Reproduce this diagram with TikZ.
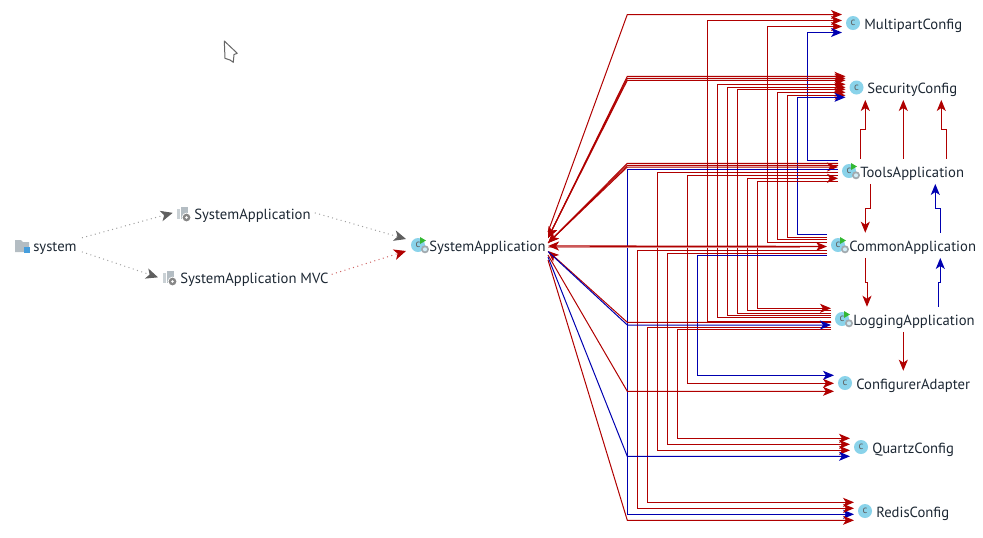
\documentclass[tikz,border=0pt]{standalone}
\usepackage{fontspec}
\setmainfont{PT Sans}
\usetikzlibrary{arrows.meta,calc}
\definecolor{rd}{HTML}{B00000}
\definecolor{bl}{HTML}{0000B0}
\definecolor{ink}{HTML}{1C2733}
\definecolor{sky}{HTML}{8AD3EA}
\definecolor{dgray}{HTML}{5F5F5F}
\definecolor{pkg}{HTML}{B4BDC3}
\tikzset{
  tiphead/.tip={Stealth[length=8.25pt,width=6.75pt,inset=2.2pt]},
  rl/.style={draw=rd,line width=.75pt},
  bln/.style={draw=bl,line width=.75pt},
  rh/.style={rl,-tiphead},
  bh/.style={bln,-tiphead},
  rb/.style={rl,tiphead-},
  lab/.style={anchor=base west,inner sep=0pt,text=ink,font=\fontsize{11pt}{13pt}\selectfont,text height=13.5pt,text depth=5pt},
  cls/.style={circle,fill=sky,inner sep=0pt,minimum size=10.5pt,outer sep=3pt,text=dgray,font=\fontsize{8pt}{8pt}\selectfont},
  dots/.style={line width=.75pt,dash pattern=on .75pt off 2.6pt,draw=gray!75,-{Stealth[length=9pt,width=8pt,inset=2.4pt,fill=dgray,color=dgray]}},
  dotsr/.style={line width=.75pt,dash pattern=on .75pt off 2.6pt,draw=rd!60,-{Stealth[length=9pt,width=8pt,inset=2.4pt,fill=rd,color=rd]}},
}
% route: style, source node, source y, trunk x, target node, target y
\newcommand\rt[6]{\draw[#1] (#2.west |- 0,#3) -- (#4,#3) -- (#4,#6) -- (#5.west |- 0,#6);}
% fan out of the hub: style, hub offset, y, target
\newcommand\fan[4]{\draw[#1] ([shift={(0,#2)}]hub) -- (627.3,#3) -- (#4.west |- 0,#3);}
\newcommand\appmark[1]{%
  \fill[green!65!black!80] ([shift={(2,-8)}]#1.center) -- ([shift={(8,-4.5)}]#1.center) -- ([shift={(2,-1)}]#1.center) -- cycle;
  \fill[pkg!90!black] ([shift={(7,4.3)}]#1.center) circle[radius=3pt];
  \fill[sky!40] ([shift={(7,4.3)}]#1.center) circle[radius=1.5pt];
}
\newcommand\pkgicon[2]{%
  \begin{scope}[shift={(#1,#2)}]
    \fill[pkg!70] (0,2) rectangle (5,12);
    \fill[white] (2.5,0) rectangle (11,13);
    \fill[pkg] (3.5,0) rectangle (10.5,12);
    \fill[white] (9.5,10.5) circle[radius=3.6pt];
    \fill[dgray!75] (9.5,10.5) circle[radius=2.9pt];
    \fill[white] (9.5,10.5) circle[radius=1.1pt];
  \end{scope}}
\begin{document}
\begin{tikzpicture}[x=.75pt,y=-.75pt]
\useasboundingbox (0,0) rectangle (983,537);
% cursor
\filldraw[draw=gray!80!black,fill=white,line width=.75pt,line join=round] (224.3,41) -- (237.3,53.3) -- (234,54.5) -- (233.3,62.3) -- (230,60) -- (225,58.3) -- cycle;
% labels
\node[lab] (sysl) at (33,251) {system};
\node[lab] (sa1) at (194,219) {SystemApplication};
\node[lab] (sa2) at (180,283) {SystemApplication MVC};
\node[lab] (sal) at (429,251) {SystemApplication};
\node[lab] (mpl) at (864,29) {MultipartConfig};
\node[lab] (scl) at (867,93) {SecurityConfig};
\node[lab] (tal) at (860,177) {ToolsApplication};
\node[lab] (cal) at (849,251) {CommonApplication};
\node[lab] (lal) at (853,325) {LoggingApplication};
\node[lab] (cfl) at (856,389) {ConfigurerAdapter};
\node[lab] (qzl) at (872,453) {QuartzConfig};
\node[lab] (rdl) at (876,517) {RedisConfig};
% icons
\node[cls] (main) at (418,245) {c};
\node[cls] (mp) at (853,23) {c};
\node[cls] (sc) at (856.5,87.5) {c};
\node[cls] (ta) at (849,171) {c};
\node[cls] (ca) at (838,245) {c};
\node[cls] (la) at (842,319) {c};
\node[cls] (cf) at (845,383) {c};
\node[cls] (qz) at (861,447) {c};
\node[cls] (rd) at (865,511) {c};
\appmark{main}\appmark{ta}\appmark{ca}\appmark{la}
\pkgicon{177}{207}
\pkgicon{163}{271}
\fill[pkg] (15,240) -- (21,240) -- (23,242) -- (29,242) -- (29,252) -- (15,252) -- cycle;
\fill[white] (23.5,246.5) rectangle (30.5,253.5);
\fill[cyan!70!blue!75] (24,247) rectangle (30,253);
\coordinate (hub) at (548,246);
% left part
\draw[dots] ([shift={(5,-7.5)}]sysl.east) -- ([shift={(-21.3,-0.5)}]sa1.west);
\draw[dots] ([shift={(5,6.5)}]sysl.east) -- ([shift={(-22,0)}]sa2.west);
\draw[dots] ([shift={(4,-0.5)}]sa1.east) -- ([shift={(-1,-6)}]main.west);
\draw[dotsr] ([shift={(3,-3)}]sa2.east) -- ([shift={(-1,6)}]main.west);
% MultipartConfig
\fan{rh}{-14}{14.5}{mp}
\rt{rh}{la}{321}{707.3}{mp}{20.5}
\rt{rh}{ca}{242.3}{767.3}{mp}{26.5}
\rt{bh}{ta}{160.3}{807.3}{mp}{32.5}
% SecurityConfig
\draw[rl,tiphead-tiphead] ([shift={(0,-8)}]hub) -- (627.3,76.3) -- (sc.west |- 0,76.3);
\draw[rl,tiphead-tiphead] ([shift={(0,-8)}]hub) -- (627.3,78.3) -- (sc.west |- 0,78.3);
\draw[rl,tiphead-tiphead] ([shift={(0,-8)}]hub) -- (627.3,80.3) -- (sc.west |- 0,80.3);
\rt{rh}{la}{317.3}{717.3}{sc}{84.3}
\rt{rh}{la}{315.3}{727.3}{sc}{87.3}
\rt{rh}{la}{313.3}{737.3}{sc}{89.3}
\rt{rh}{ca}{239.3}{777.3}{sc}{92.3}
\rt{rh}{ca}{237}{787.3}{sc}{95.3}
\rt{bh}{ca}{234.3}{797.3}{sc}{97.3}
% ToolsApplication
\fan{rb}{-3}{163.3}{ta}
\fan{rl}{-3}{165.3}{ta}
\draw[rl,tiphead-tiphead] ([shift={(0,-3)}]hub) -- (627.3,167) -- (ta.west |- 0,167);
\rt{bh}{ta}{169.3}{627.3}{rd}{514.3}
\rt{rh}{ta}{172.3}{657.3}{qz}{450.3}
\rt{rh}{ta}{175.3}{687.3}{cf}{383.3}
\rt{rh}{la}{310.3}{747.3}{ta}{178.3}
\rt{rh}{ta}{181.3}{757.3}{la}{308.3}
% CommonApplication
\draw[rd!45,line width=1pt] (hub) ++(0,1.6) -- (800,247.6);
\draw[rl,tiphead-tiphead,line width=1pt] (hub) -- (ca.west |- 0,246.5);
\rt{rh}{ca}{250.3}{637.3}{rd}{508.3}
\rt{rh}{ca}{253.3}{667.3}{qz}{444.3}
\rt{bh}{ca}{255.3}{697.3}{cf}{375.3}
% LoggingApplication
\rt{rh}{la}{327.3}{647.3}{rd}{502.3}
\rt{rh}{la}{329.3}{677.3}{qz}{438.3}
\fan{rb}{5}{322.3}{la}
\fan{bh}{5.5}{325}{la}
% lower fan
\fan{rh}{9}{391.3}{cf}
\fan{bh}{11}{456.3}{qz}
\fan{rh}{14}{520.3}{rd}
% between the application classes
\draw[rh] (860.3,0 |- tal.north) -- (860.3,129.3) -- (865.3,129.3) -- (865.3,0 |- scl.south);
\draw[rh] (903.3,0 |- tal.north) -- (903.3,0 |- scl.south);
\draw[rh] (946.3,0 |- tal.north) -- (946.3,129.3) -- (941.3,129.3) -- (941.3,0 |- scl.south);
\draw[rh] (870.3,0 |- tal.south) -- (870.3,208.3) -- (865.3,208.3) -- (865.3,0 |- cal.north);
\draw[bh] (940.3,0 |- cal.north) -- (940.3,208.3) -- (935.3,208.3) -- (935.3,0 |- tal.south);
\draw[rh] (865.3,0 |- cal.south) -- (865.3,282) -- (867,282) -- (867,0 |- lal.north);
\draw[bh] (938.3,0 |- lal.north) -- (938.3,282.5) -- (940.3,282.5) -- (940.3,0 |- cal.south);
\draw[rh] (903.3,0 |- lal.south) -- (903.3,0 |- cfl.north);
\end{tikzpicture}
\end{document}
